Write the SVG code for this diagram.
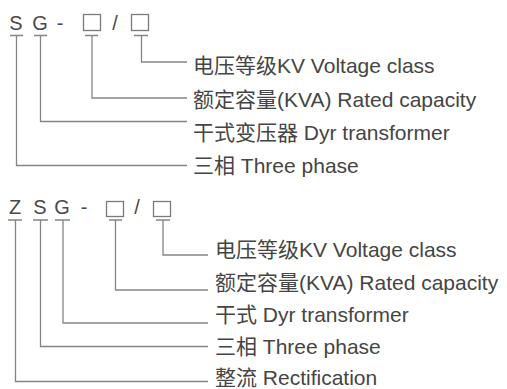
<svg xmlns="http://www.w3.org/2000/svg" width="507" height="389" viewBox="0 0 507 389">
<style>
  .code { font-family: "Liberation Sans", "Noto Sans CJK SC", sans-serif; font-size: 20px; fill: #4a4a4a; text-anchor: middle; }
  .lbl { font-family: "Liberation Sans", "Noto Sans CJK SC", sans-serif; font-size: 21px; fill: #454545; }
  .box { fill: none; stroke: #7a7a7a; stroke-width: 1.3; }
  .ln { fill: none; stroke: #858585; stroke-width: 1.3; }
</style>
<rect width="507" height="389" fill="#ffffff"/>

<!-- Top code: S G - □ / □ -->
<g id="code-sg">
  <text class="code" x="16" y="29.5">S</text>
  <text class="code" x="40" y="29.5">G</text>
  <text class="code" x="60" y="29.5">-</text>
  <rect class="box" x="83.5" y="14.5" width="17" height="16"/>
  <text class="code" x="115" y="29.5">/</text>
  <rect class="box" x="131.5" y="14.5" width="17" height="16"/>
</g>

<g id="label-sg-voltage"><text class="lbl" x="193" y="73">电压等级KV Voltage class</text></g>
<g id="label-sg-capacity"><text class="lbl" x="193" y="107">额定容量(KVA) Rated capacity</text></g>
<g id="label-sg-dry"><text class="lbl" x="193" y="140">干式变压器 Dyr transformer</text></g>
<g id="label-sg-phase"><text class="lbl" x="193" y="173">三相 Three phase</text></g>

<!-- Bottom code: Z S G - □ / □ -->
<g id="code-zsg">
  <text class="code" x="15" y="214">Z</text>
  <text class="code" x="40" y="214">S</text>
  <text class="code" x="62" y="214">G</text>
  <text class="code" x="84" y="214">-</text>
  <rect class="box" x="106.5" y="201.5" width="17" height="15"/>
  <text class="code" x="137" y="214">/</text>
  <rect class="box" x="153.5" y="201.5" width="17" height="15"/>
</g>

<g id="label-zsg-voltage"><text class="lbl" x="215" y="257">电压等级KV Voltage class</text></g>
<g id="label-zsg-capacity"><text class="lbl" x="215" y="290">额定容量(KVA) Rated capacity</text></g>
<g id="label-zsg-dry"><text class="lbl" x="215" y="322">干式 Dyr transformer</text></g>
<g id="label-zsg-phase"><text class="lbl" x="215" y="354">三相 Three phase</text></g>
<g id="label-zsg-rect"><text class="lbl" x="215" y="385">整流 Rectification</text></g>

<g id="connectors">
  <!-- top underlines -->
  <path class="ln" d="M10 35.5H23 M34 35.5H47 M85 35.5H98 M134 35.5H148"/>
  <!-- top leaders -->
  <path class="ln" d="M141.5 35.5V62H187"/>
  <path class="ln" d="M92 35.5V98H187"/>
  <path class="ln" d="M40.5 35.5V121.5H187"/>
  <path class="ln" d="M16.5 35.5V165.5H187"/>
  <!-- bottom underlines -->
  <path class="ln" d="M8 220H22 M33 220H48 M55 220H70 M109 220H122 M156 220H170"/>
  <!-- bottom leaders -->
  <path class="ln" d="M163 220V255H208"/>
  <path class="ln" d="M115.5 220V290H208"/>
  <path class="ln" d="M63 220V323H208"/>
  <path class="ln" d="M40.5 220V346.5H208"/>
  <path class="ln" d="M15.5 220V381.5H208"/>
</g>
</svg>
